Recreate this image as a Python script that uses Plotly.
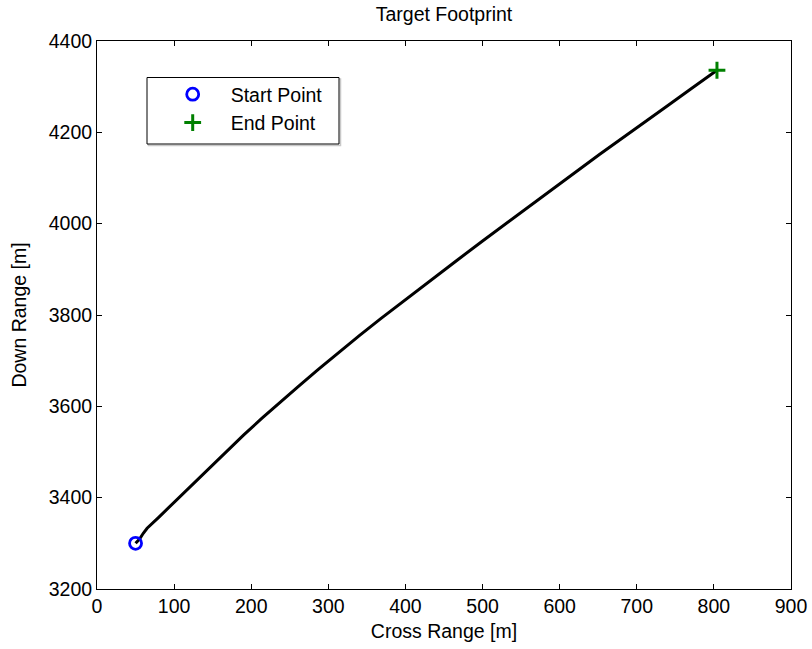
import plotly.graph_objects as go

# Trajectory of the target footprint
cross_range = [50, 55, 60, 65, 80, 100, 120, 143, 165, 190, 214, 238, 262, 287,
               314, 341, 368, 394, 430, 467, 500, 530, 560, 588, 620, 652, 678,
               710, 739, 770, 804]
down_range = [3300, 3309, 3322, 3333, 3357, 3390, 3423, 3461, 3497, 3537, 3574,
              3610, 3645, 3681, 3719, 3756, 3792, 3826, 3873, 3920, 3962, 4000,
              4037, 4073, 4112, 4152, 4183, 4222, 4257, 4295, 4336]

start_point = (cross_range[0], down_range[0])
end_point = (cross_range[-1], down_range[-1])

x_ticks = [0, 100, 200, 300, 400, 500, 600, 700, 800, 900]
y_ticks = [3200, 3400, 3600, 3800, 4000, 4200, 4400]

FONT = "Liberation Sans, Arial, sans-serif"
FS = 19.5

fig = go.Figure()
fig.add_trace(go.Scatter(x=cross_range, y=down_range, mode="lines",
                         line=dict(color="black", width=3), showlegend=False))
fig.add_trace(go.Scatter(x=[start_point[0]], y=[start_point[1]], mode="markers",
                         name="Start Point",
                         marker=dict(symbol="circle-open", size=12, color="#0000ff",
                                     line=dict(width=2.8, color="#0000ff"))))
fig.add_trace(go.Scatter(x=[end_point[0]], y=[end_point[1]], mode="markers",
                         name="End Point",
                         marker=dict(symbol="cross-thin-open", size=12, color="#008000",
                                     line=dict(width=3, color="#008000"))))

axis_common = dict(showgrid=False, zeroline=False, showline=True, linecolor="black",
                   linewidth=1, mirror="ticks", ticks="inside", ticklen=5, automargin=False,
                   tickcolor="black", tickfont=dict(family=FONT, size=FS, color="black"))

fig.update_xaxes(range=[0, 900], tickvals=x_ticks, **axis_common,
                 title=dict(text="Cross Range [m]", font=dict(family=FONT, size=FS, color="black"),
                            standoff=7))
fig.update_yaxes(range=[3200, 4400], tickvals=y_ticks, **axis_common,
                 title=dict(text="Down Range [m]", font=dict(family=FONT, size=FS, color="black"),
                            standoff=16))

# legend box (with faint shadow)
fig.add_shape(type="rect", xref="paper", yref="paper",
              x0=(148.5 - 97) / 694, x1=(340.5 - 97) / 694,
              y0=(589 - 145.5) / 548, y1=(589 - 79) / 548,
              line=dict(color="#c8c8c8", width=1.5), fillcolor="rgba(0,0,0,0)", layer="above")
fig.add_shape(type="rect", xref="paper", yref="paper",
              x0=(147 - 97) / 694, x1=(339 - 97) / 694,
              y0=(589 - 144) / 548, y1=(589 - 77.5) / 548,
              line=dict(color="black", width=1), fillcolor="white", layer="above")

fig.update_layout(
    width=812, height=649,
    margin=dict(l=97, r=21, t=41, b=60),
    paper_bgcolor="white", plot_bgcolor="white",
    title=dict(text="Target Footprint", x=0.5, xref="paper", y=1 - 14.5 / 649, yanchor="middle",
               font=dict(family=FONT, size=FS, color="black")),
    legend=dict(x=(154.7 - 97) / 694, y=(589 - 75) / 548, xanchor="left", yanchor="top",
                bgcolor="rgba(0,0,0,0)", borderwidth=0, itemwidth=66,
                font=dict(family=FONT, size=FS, color="black"), tracegroupgap=0),
)

fig.write_html("out.html")
